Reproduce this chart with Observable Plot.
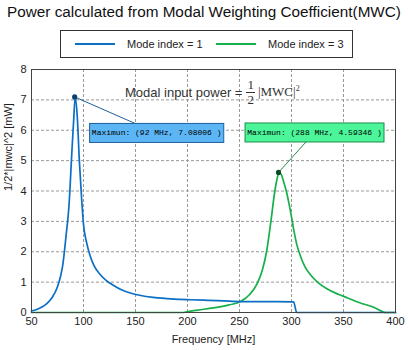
<!DOCTYPE html>
<html>
<head>
<meta charset="utf-8">
<script src="https://cdn.jsdelivr.net/npm/d3@7"></script>
<script src="https://cdn.jsdelivr.net/npm/@observablehq/plot@0.6"></script>
<style>
  body { margin: 0; background: #fff; }
  #wrap { position: relative; width: 408px; height: 350px; font-family: "Liberation Sans", Arial, sans-serif; color: #222; }
  #title { position: absolute; left: 0; top: 3px; width: 408px; text-align: center; font-size: 15.3px; color: #111; white-space: nowrap; }
  #legend { position: absolute; left: 60px; top: 30px; width: 291px; height: 26px; border: 1px solid #333; background: #fff; font-size: 11px; }
  .li { position: absolute; top: 0; height: 26px; display: flex; align-items: center; }
  .sw { width: 40px; height: 2px; margin-right: 12px; }
  #eq { position: absolute; left: 125px; top: 79px; height: 26px; display: flex; align-items: center; font-size: 13px; color: #333; white-space: nowrap; }
  .frac { display: inline-flex; flex-direction: column; align-items: center; font-family: "Liberation Serif", serif; font-size: 13px; line-height: 12px; margin: 0 3px 0 4px; }
  .frac .num { border-bottom: 1px solid #333; padding: 0 1px 1px 1px; }
  .frac .den { padding-top: 1px; }
  .ser { font-family: "Liberation Serif", serif; font-size: 13px; }
</style>
</head>
<body>
<div id="wrap">
  <div id="chart"></div>
  <div id="title"></div>
  <div id="legend"></div>
  <div id="eq">Modal input power =<span class="frac"><span class="num">1</span><span class="den">2</span></span><span class="ser">|MWC|<sup style="font-size:8px">2</sup></span></div>
</div>
<script>
// ---- data ----
const titleText = "Power calculated from Modal Weighting Coefficient(MWC)";
const seriesNames = ["Mode index = 1", "Mode index = 3"];
const seriesColors = ["#0b6fc6", "#16b04a"];

const mode1Freq = [50, 55, 60, 65, 70, 75, 78, 80, 83, 86, 89, 90.5, 92, 94, 96, 98, 100, 103, 106.5, 110, 116, 122, 129, 137, 145, 155, 167, 180, 193, 203, 220, 235, 251, 270, 285, 302, 305, 400];
const mode1Power = [0.05, 0.1, 0.18, 0.3, 0.5, 0.85, 1.2, 1.55, 2.45, 3.5, 5.4, 6.3, 7.08006, 6.45, 5.0, 3.85, 2.9, 2.3, 1.85, 1.55, 1.25, 1.05, 0.89, 0.74, 0.64, 0.56, 0.5, 0.46, 0.43, 0.42, 0.4, 0.38, 0.36, 0.36, 0.36, 0.35, 0, 0];

const mode3Freq = [50, 195, 200, 210, 225, 240, 251, 260, 267, 272, 276, 280, 284, 286.5, 288, 290, 292.5, 295, 297.5, 300, 302, 305, 309, 313, 318, 325, 334, 345, 354, 365, 379, 388, 390, 400];
const mode3Power = [0, 0, 0.03, 0.08, 0.15, 0.25, 0.36, 0.6, 0.95, 1.4, 2.0, 2.95, 4.0, 4.45, 4.59346, 4.55, 4.3, 4.0, 3.6, 3.15, 2.75, 2.25, 1.82, 1.5, 1.25, 1.0, 0.78, 0.6, 0.48, 0.33, 0.17, 0.02, 0, 0];

const peakFreq = [92, 288];
const peakPower = [7.08006, 4.59346];
const peakLabels = ["Maximun: (92 MHz, 7.08006 )", "Maximun: (288 MHz, 4.59346 )"];

const xTicks = [50, 100, 150, 200, 250, 300, 350, 400];
const yTicks = [0, 1, 2, 3, 4, 5, 6, 7, 8];
const xLabel = "Frequency [MHz]";
const yLabel = "1/2*|mwc|^2 [mW]";

// ---- build tables ----
const rows = [
  ...mode3Freq.map((f, i) => ({f, v: mode3Power[i], s: seriesNames[1]})),
  ...mode1Freq.map((f, i) => ({f, v: mode1Power[i], s: seriesNames[0]}))
];
const peaks = peakFreq.map((f, i) => ({f, v: peakPower[i], label: peakLabels[i], s: seriesNames[i]}));

// annotation styling (pixel offsets of box centre from the peak)
const tipStyle = [
  {dx: 82, dy: 36, fill: "#5cb6f5", stroke: "#1d5f9e", line: "#1f5f9a", dot: "#0d3f70"},
  {dx: 36, dy: -40, fill: "#4cf59a", stroke: "#1b8a48", line: "#2a8a50", dot: "#0c4a24"}
];

document.getElementById("title").textContent = titleText;
const lg = document.getElementById("legend");
[[14, 0], [155, 1]].forEach(([left, i]) => {
  const d = document.createElement("div");
  d.className = "li";
  d.style.left = left + "px";
  d.innerHTML = `<span class="sw" style="background:${seriesColors[i]}"></span><span>${seriesNames[i]}</span>`;
  lg.appendChild(d);
});

const annot = Plot.dot(peaks, {
  x: "f", y: "v", r: 0,
  render(index, scales, values, dims) {
    const g = d3.create("svg:g");
    for (const i of index) {
      const p = peaks[i];
      const st = tipStyle[i];
      const px = scales.x(p.f), py = scales.y(p.v);
      const cx = px + st.dx, cy = py + st.dy;
      const w = p.label.length * 4.82 + 4, h = 19;
      g.append("line").attr("x1", px).attr("y1", py).attr("x2", cx).attr("y2", cy)
        .attr("stroke", st.line).attr("stroke-width", 1);
      g.append("rect").attr("x", cx - w / 2).attr("y", cy - h / 2).attr("width", w).attr("height", h)
        .attr("fill", st.fill).attr("stroke", st.stroke).attr("stroke-width", 1);
      g.append("text").attr("x", cx).attr("y", cy).attr("text-anchor", "middle")
        .attr("dominant-baseline", "central").attr("font-family", "'Liberation Mono', 'DejaVu Sans Mono', monospace")
        .attr("font-size", 8).attr("fill", "#000").text(p.label);
      g.append("circle").attr("cx", px).attr("cy", py).attr("r", 2.6).attr("fill", st.dot);
    }
    return g.node();
  }
});

const chart = Plot.plot({
  width: 408,
  height: 350,
  marginTop: 69,
  marginRight: 13,
  marginBottom: 38,
  marginLeft: 31,
  style: {fontFamily: "'Liberation Sans', Arial, sans-serif", fontSize: "11px", color: "#222", background: "transparent"},
  x: {domain: [50, 400]},
  y: {domain: [0, 8]},
  color: {domain: seriesNames, range: seriesColors},
  marks: [
    Plot.gridX(xTicks.slice(1, -1), {stroke: "#999", strokeOpacity: 1, strokeDasharray: "3,2"}),
    Plot.gridY(yTicks.slice(1, -1), {stroke: "#999", strokeOpacity: 1, strokeDasharray: "3,2"}),
    Plot.line(rows, {x: "f", y: "v", z: "s", stroke: "s", strokeWidth: 1.7, curve: "monotone-x"}),
    Plot.frame({stroke: "#444", strokeWidth: 1}),
    Plot.axisX({ticks: xTicks, tickSize: 0, tickPadding: 5, label: null, fontSize: 11}),
    Plot.axisY({ticks: yTicks, tickSize: 0, tickPadding: 5, label: null, fontSize: 11}),
    Plot.text([xLabel], {frameAnchor: "bottom", dy: 30, fontSize: 11, fill: "#222"}),
    Plot.text([yLabel], {frameAnchor: "left", dx: -23, rotate: -90, fontSize: 11, fill: "#222"}),
    annot
  ]
});
document.getElementById("chart").appendChild(chart);
</script>
</body>
</html>
